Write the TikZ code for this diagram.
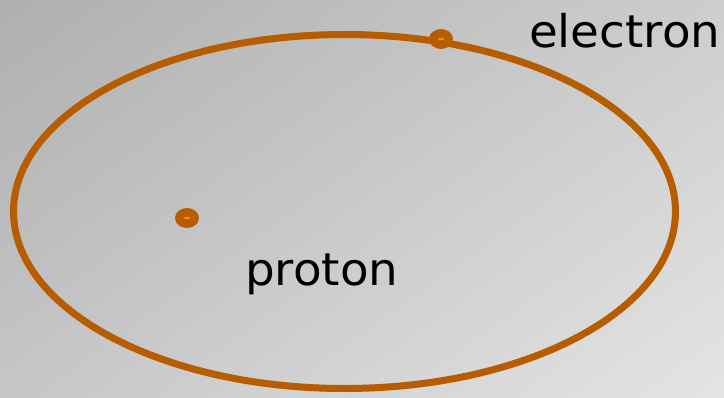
\documentclass[tikz,border=0pt]{standalone}
\usepackage{fontspec}
\usetikzlibrary{shadings}
\setmainfont{DejaVu Sans}
\definecolor{orbit}{HTML}{B85C00}
\definecolor{dotcore}{HTML}{F08A1A}
\definecolor{bgtl}{HTML}{AFAFAF}
\definecolor{bgtr}{HTML}{CDCDCD}
\definecolor{bgbl}{HTML}{C6C6C6}
\definecolor{bgbr}{HTML}{E4E4E4}
\begin{document}
\begin{tikzpicture}[x=1pt,y=-1pt,
  particle/.style={fill=orbit},
  lbl/.style={anchor=base west,inner sep=0pt,font=\fontsize{45}{45}\selectfont,text=black}]
\useasboundingbox (0,0) rectangle (724,397);
\shade[upper left=bgtl,upper right=bgtr,lower left=bgbl,lower right=bgbr] (0,0) rectangle (724,397);
\draw[orbit,line width=7pt] (344.5,211.5) ellipse [x radius=331,y radius=177];
\coordinate (p) at (187,218);
\coordinate (e) at (441,39);
\fill[particle] (p) ellipse [x radius=12,y radius=10];
\fill[dotcore] (p) ellipse [x radius=3,y radius=1.3];
\fill[particle] (e) ellipse [x radius=12,y radius=10];
\fill[dotcore] (e) ellipse [x radius=3,y radius=1.3];
\node[lbl] (electron) at (529,47) {\scalebox{1.04}[1]{electron}};
\node[lbl] (proton) at (245,285) {\scalebox{1.04}[1]{proton}};
\end{tikzpicture}
\end{document}
